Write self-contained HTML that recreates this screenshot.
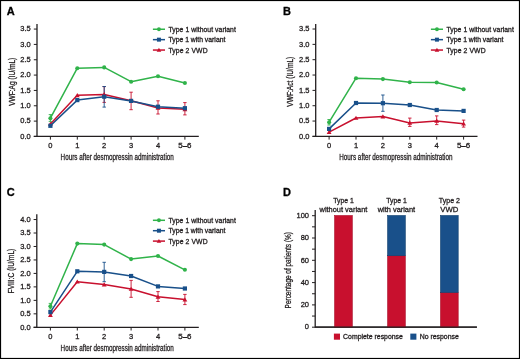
<!DOCTYPE html><html><head><meta charset="utf-8"><style>html,body{margin:0;padding:0;background:#fff}svg{display:block;will-change:transform}text{font-family:"Liberation Sans", sans-serif}</style></head><body>
<svg width="520" height="359" viewBox="0 0 520 359">
<rect x="0" y="0" width="520" height="359" fill="#fff"/>
<rect x="0.5" y="0.5" width="519" height="358" fill="none" stroke="#000" stroke-width="1.2"/>
<text x="6.80" y="15.00" font-size="11" text-anchor="start" font-weight="bold" fill="#000" stroke="#000" stroke-width="0.3" >A</text>
<text x="283.00" y="15.00" font-size="11" text-anchor="start" font-weight="bold" fill="#000" stroke="#000" stroke-width="0.3" >B</text>
<text x="6.80" y="196.30" font-size="11" text-anchor="start" font-weight="bold" fill="#000" stroke="#000" stroke-width="0.3" >C</text>
<text x="283.00" y="196.30" font-size="11" text-anchor="start" font-weight="bold" fill="#000" stroke="#000" stroke-width="0.3" >D</text>
<line x1="37.00" y1="24.00" x2="37.00" y2="137.05" stroke="#231f20" stroke-width="1.3"/>
<line x1="33.80" y1="136.45" x2="198.80" y2="136.45" stroke="#231f20" stroke-width="1.3"/>
<line x1="33.80" y1="136.45" x2="37.00" y2="136.45" stroke="#231f20" stroke-width="1.0"/>
<text x="30.80" y="138.70" font-size="7.5" text-anchor="end" font-weight="normal" fill="#231f20" stroke="#231f20" stroke-width="0.3" >0.0</text>
<line x1="33.80" y1="121.11" x2="37.00" y2="121.11" stroke="#231f20" stroke-width="1.0"/>
<text x="30.80" y="123.36" font-size="7.5" text-anchor="end" font-weight="normal" fill="#231f20" stroke="#231f20" stroke-width="0.3" >0.5</text>
<line x1="33.80" y1="105.77" x2="37.00" y2="105.77" stroke="#231f20" stroke-width="1.0"/>
<text x="30.80" y="108.02" font-size="7.5" text-anchor="end" font-weight="normal" fill="#231f20" stroke="#231f20" stroke-width="0.3" >1.0</text>
<line x1="33.80" y1="90.43" x2="37.00" y2="90.43" stroke="#231f20" stroke-width="1.0"/>
<text x="30.80" y="92.68" font-size="7.5" text-anchor="end" font-weight="normal" fill="#231f20" stroke="#231f20" stroke-width="0.3" >1.5</text>
<line x1="33.80" y1="75.09" x2="37.00" y2="75.09" stroke="#231f20" stroke-width="1.0"/>
<text x="30.80" y="77.34" font-size="7.5" text-anchor="end" font-weight="normal" fill="#231f20" stroke="#231f20" stroke-width="0.3" >2.0</text>
<line x1="33.80" y1="59.75" x2="37.00" y2="59.75" stroke="#231f20" stroke-width="1.0"/>
<text x="30.80" y="62.00" font-size="7.5" text-anchor="end" font-weight="normal" fill="#231f20" stroke="#231f20" stroke-width="0.3" >2.5</text>
<line x1="33.80" y1="44.41" x2="37.00" y2="44.41" stroke="#231f20" stroke-width="1.0"/>
<text x="30.80" y="46.66" font-size="7.5" text-anchor="end" font-weight="normal" fill="#231f20" stroke="#231f20" stroke-width="0.3" >3.0</text>
<line x1="33.80" y1="29.07" x2="37.00" y2="29.07" stroke="#231f20" stroke-width="1.0"/>
<text x="30.80" y="31.32" font-size="7.5" text-anchor="end" font-weight="normal" fill="#231f20" stroke="#231f20" stroke-width="0.3" >3.5</text>
<line x1="50.40" y1="136.45" x2="50.40" y2="139.65" stroke="#231f20" stroke-width="1.0"/>
<text x="50.40" y="147.75" font-size="7.5" text-anchor="middle" font-weight="normal" fill="#231f20" stroke="#231f20" stroke-width="0.3" >0</text>
<line x1="77.30" y1="136.45" x2="77.30" y2="139.65" stroke="#231f20" stroke-width="1.0"/>
<text x="77.30" y="147.75" font-size="7.5" text-anchor="middle" font-weight="normal" fill="#231f20" stroke="#231f20" stroke-width="0.3" >1</text>
<line x1="104.20" y1="136.45" x2="104.20" y2="139.65" stroke="#231f20" stroke-width="1.0"/>
<text x="104.20" y="147.75" font-size="7.5" text-anchor="middle" font-weight="normal" fill="#231f20" stroke="#231f20" stroke-width="0.3" >2</text>
<line x1="131.10" y1="136.45" x2="131.10" y2="139.65" stroke="#231f20" stroke-width="1.0"/>
<text x="131.10" y="147.75" font-size="7.5" text-anchor="middle" font-weight="normal" fill="#231f20" stroke="#231f20" stroke-width="0.3" >3</text>
<line x1="158.00" y1="136.45" x2="158.00" y2="139.65" stroke="#231f20" stroke-width="1.0"/>
<text x="158.00" y="147.75" font-size="7.5" text-anchor="middle" font-weight="normal" fill="#231f20" stroke="#231f20" stroke-width="0.3" >4</text>
<line x1="184.90" y1="136.45" x2="184.90" y2="139.65" stroke="#231f20" stroke-width="1.0"/>
<text x="184.90" y="147.75" font-size="7.5" text-anchor="middle" font-weight="normal" fill="#231f20" stroke="#231f20" stroke-width="0.3" textLength="13.3" lengthAdjust="spacingAndGlyphs">5–6</text>
<text x="117.20" y="160.45" font-size="9.0" text-anchor="middle" font-weight="normal" fill="#231f20" stroke="#231f20" stroke-width="0.3" textLength="113.2" lengthAdjust="spacingAndGlyphs">Hours after desmopressin administration</text>
<text transform="translate(14.70,81.75) rotate(-90)" x="0" y="0" font-size="8.8" text-anchor="middle" font-weight="normal" fill="#231f20" stroke="#231f20" stroke-width="0.3" textLength="48.1" lengthAdjust="spacingAndGlyphs">VWF:Ag (IU/mL)</text>
<polyline points="50.40,118.20 77.30,68.20 104.20,67.40 131.10,81.70 158.00,76.30 184.90,83.00" fill="none" stroke="#30b34a" stroke-width="1.5" stroke-linejoin="round"/>
<polyline points="50.40,124.00 77.30,95.30 104.20,94.40 131.10,100.80 158.00,108.00 184.90,109.30" fill="none" stroke="#c8102e" stroke-width="1.5" stroke-linejoin="round"/>
<polyline points="50.40,125.80 77.30,100.10 104.20,96.70 131.10,100.90 158.00,106.70 184.90,108.20" fill="none" stroke="#19508a" stroke-width="1.5" stroke-linejoin="round"/>
<line x1="50.40" y1="114.60" x2="50.40" y2="121.40" stroke="#30b34a" stroke-width="0.9"/>
<line x1="48.70" y1="114.60" x2="52.10" y2="114.60" stroke="#30b34a" stroke-width="0.9"/>
<line x1="48.70" y1="121.40" x2="52.10" y2="121.40" stroke="#30b34a" stroke-width="0.9"/>
<line x1="104.20" y1="86.60" x2="104.20" y2="102.40" stroke="#c8102e" stroke-width="0.9"/>
<line x1="102.50" y1="86.60" x2="105.90" y2="86.60" stroke="#c8102e" stroke-width="0.9"/>
<line x1="102.50" y1="102.40" x2="105.90" y2="102.40" stroke="#c8102e" stroke-width="0.9"/>
<line x1="131.10" y1="92.20" x2="131.10" y2="109.70" stroke="#c8102e" stroke-width="0.9"/>
<line x1="129.40" y1="92.20" x2="132.80" y2="92.20" stroke="#c8102e" stroke-width="0.9"/>
<line x1="129.40" y1="109.70" x2="132.80" y2="109.70" stroke="#c8102e" stroke-width="0.9"/>
<line x1="158.00" y1="100.80" x2="158.00" y2="114.00" stroke="#c8102e" stroke-width="0.9"/>
<line x1="156.30" y1="100.80" x2="159.70" y2="100.80" stroke="#c8102e" stroke-width="0.9"/>
<line x1="156.30" y1="114.00" x2="159.70" y2="114.00" stroke="#c8102e" stroke-width="0.9"/>
<line x1="184.90" y1="102.60" x2="184.90" y2="114.90" stroke="#c8102e" stroke-width="0.9"/>
<line x1="183.20" y1="102.60" x2="186.60" y2="102.60" stroke="#c8102e" stroke-width="0.9"/>
<line x1="183.20" y1="114.90" x2="186.60" y2="114.90" stroke="#c8102e" stroke-width="0.9"/>
<line x1="104.20" y1="86.50" x2="104.20" y2="107.10" stroke="#19508a" stroke-width="0.9"/>
<line x1="102.50" y1="86.50" x2="105.90" y2="86.50" stroke="#19508a" stroke-width="0.9"/>
<line x1="102.50" y1="107.10" x2="105.90" y2="107.10" stroke="#19508a" stroke-width="0.9"/>
<circle cx="50.40" cy="118.20" r="2.05" fill="#30b34a"/>
<circle cx="77.30" cy="68.20" r="2.05" fill="#30b34a"/>
<circle cx="104.20" cy="67.40" r="2.05" fill="#30b34a"/>
<circle cx="131.10" cy="81.70" r="2.05" fill="#30b34a"/>
<circle cx="158.00" cy="76.30" r="2.05" fill="#30b34a"/>
<circle cx="184.90" cy="83.00" r="2.05" fill="#30b34a"/>
<polygon points="50.40,121.70 52.81,125.84 47.98,125.84" fill="#c8102e"/>
<polygon points="77.30,93.00 79.72,97.14 74.88,97.14" fill="#c8102e"/>
<polygon points="104.20,92.10 106.61,96.24 101.78,96.24" fill="#c8102e"/>
<polygon points="131.10,98.50 133.51,102.64 128.69,102.64" fill="#c8102e"/>
<polygon points="158.00,105.70 160.41,109.84 155.59,109.84" fill="#c8102e"/>
<polygon points="184.90,107.00 187.31,111.14 182.49,111.14" fill="#c8102e"/>
<rect x="48.30" y="123.70" width="4.20" height="4.20" fill="#19508a"/>
<rect x="75.20" y="98.00" width="4.20" height="4.20" fill="#19508a"/>
<rect x="102.10" y="94.60" width="4.20" height="4.20" fill="#19508a"/>
<rect x="129.00" y="98.80" width="4.20" height="4.20" fill="#19508a"/>
<rect x="155.90" y="104.60" width="4.20" height="4.20" fill="#19508a"/>
<rect x="182.80" y="106.10" width="4.20" height="4.20" fill="#19508a"/>
<line x1="152.90" y1="29.25" x2="165.00" y2="29.25" stroke="#30b34a" stroke-width="1.5"/>
<circle cx="158.95" cy="29.25" r="1.95" fill="#30b34a"/>
<text x="168.45" y="31.85" font-size="6.8" text-anchor="start" font-weight="normal" fill="#231f20" stroke="#231f20" stroke-width="0.3" textLength="67.4" lengthAdjust="spacing">Type 1 without variant</text>
<line x1="152.90" y1="39.65" x2="165.00" y2="39.65" stroke="#19508a" stroke-width="1.5"/>
<rect x="156.95" y="37.66" width="3.99" height="3.99" fill="#19508a"/>
<text x="168.45" y="42.25" font-size="6.8" text-anchor="start" font-weight="normal" fill="#231f20" stroke="#231f20" stroke-width="0.3" textLength="56.9" lengthAdjust="spacing">Type 1 with variant</text>
<line x1="152.90" y1="50.05" x2="165.00" y2="50.05" stroke="#c8102e" stroke-width="1.5"/>
<polygon points="158.95,47.86 161.24,51.80 156.66,51.80" fill="#c8102e"/>
<text x="168.45" y="52.65" font-size="6.8" text-anchor="start" font-weight="normal" fill="#231f20" stroke="#231f20" stroke-width="0.3" textLength="39.1" lengthAdjust="spacing">Type 2 VWD</text>
<line x1="315.70" y1="24.10" x2="315.70" y2="137.00" stroke="#231f20" stroke-width="1.3"/>
<line x1="312.50" y1="136.40" x2="477.50" y2="136.40" stroke="#231f20" stroke-width="1.3"/>
<line x1="312.50" y1="136.40" x2="315.70" y2="136.40" stroke="#231f20" stroke-width="1.0"/>
<text x="309.50" y="138.65" font-size="7.5" text-anchor="end" font-weight="normal" fill="#231f20" stroke="#231f20" stroke-width="0.3" >0.0</text>
<line x1="312.50" y1="121.06" x2="315.70" y2="121.06" stroke="#231f20" stroke-width="1.0"/>
<text x="309.50" y="123.31" font-size="7.5" text-anchor="end" font-weight="normal" fill="#231f20" stroke="#231f20" stroke-width="0.3" >0.5</text>
<line x1="312.50" y1="105.72" x2="315.70" y2="105.72" stroke="#231f20" stroke-width="1.0"/>
<text x="309.50" y="107.97" font-size="7.5" text-anchor="end" font-weight="normal" fill="#231f20" stroke="#231f20" stroke-width="0.3" >1.0</text>
<line x1="312.50" y1="90.38" x2="315.70" y2="90.38" stroke="#231f20" stroke-width="1.0"/>
<text x="309.50" y="92.63" font-size="7.5" text-anchor="end" font-weight="normal" fill="#231f20" stroke="#231f20" stroke-width="0.3" >1.5</text>
<line x1="312.50" y1="75.04" x2="315.70" y2="75.04" stroke="#231f20" stroke-width="1.0"/>
<text x="309.50" y="77.29" font-size="7.5" text-anchor="end" font-weight="normal" fill="#231f20" stroke="#231f20" stroke-width="0.3" >2.0</text>
<line x1="312.50" y1="59.70" x2="315.70" y2="59.70" stroke="#231f20" stroke-width="1.0"/>
<text x="309.50" y="61.95" font-size="7.5" text-anchor="end" font-weight="normal" fill="#231f20" stroke="#231f20" stroke-width="0.3" >2.5</text>
<line x1="312.50" y1="44.36" x2="315.70" y2="44.36" stroke="#231f20" stroke-width="1.0"/>
<text x="309.50" y="46.61" font-size="7.5" text-anchor="end" font-weight="normal" fill="#231f20" stroke="#231f20" stroke-width="0.3" >3.0</text>
<line x1="312.50" y1="29.02" x2="315.70" y2="29.02" stroke="#231f20" stroke-width="1.0"/>
<text x="309.50" y="31.27" font-size="7.5" text-anchor="end" font-weight="normal" fill="#231f20" stroke="#231f20" stroke-width="0.3" >3.5</text>
<line x1="329.10" y1="136.40" x2="329.10" y2="139.60" stroke="#231f20" stroke-width="1.0"/>
<text x="329.10" y="147.70" font-size="7.5" text-anchor="middle" font-weight="normal" fill="#231f20" stroke="#231f20" stroke-width="0.3" >0</text>
<line x1="356.00" y1="136.40" x2="356.00" y2="139.60" stroke="#231f20" stroke-width="1.0"/>
<text x="356.00" y="147.70" font-size="7.5" text-anchor="middle" font-weight="normal" fill="#231f20" stroke="#231f20" stroke-width="0.3" >1</text>
<line x1="382.90" y1="136.40" x2="382.90" y2="139.60" stroke="#231f20" stroke-width="1.0"/>
<text x="382.90" y="147.70" font-size="7.5" text-anchor="middle" font-weight="normal" fill="#231f20" stroke="#231f20" stroke-width="0.3" >2</text>
<line x1="409.80" y1="136.40" x2="409.80" y2="139.60" stroke="#231f20" stroke-width="1.0"/>
<text x="409.80" y="147.70" font-size="7.5" text-anchor="middle" font-weight="normal" fill="#231f20" stroke="#231f20" stroke-width="0.3" >3</text>
<line x1="436.70" y1="136.40" x2="436.70" y2="139.60" stroke="#231f20" stroke-width="1.0"/>
<text x="436.70" y="147.70" font-size="7.5" text-anchor="middle" font-weight="normal" fill="#231f20" stroke="#231f20" stroke-width="0.3" >4</text>
<line x1="463.60" y1="136.40" x2="463.60" y2="139.60" stroke="#231f20" stroke-width="1.0"/>
<text x="463.60" y="147.70" font-size="7.5" text-anchor="middle" font-weight="normal" fill="#231f20" stroke="#231f20" stroke-width="0.3" textLength="13.3" lengthAdjust="spacingAndGlyphs">5–6</text>
<text x="395.90" y="160.40" font-size="9.0" text-anchor="middle" font-weight="normal" fill="#231f20" stroke="#231f20" stroke-width="0.3" textLength="113.2" lengthAdjust="spacingAndGlyphs">Hours after desmopressin administration</text>
<text transform="translate(292.70,81.70) rotate(-90)" x="0" y="0" font-size="8.8" text-anchor="middle" font-weight="normal" fill="#231f20" stroke="#231f20" stroke-width="0.3" textLength="50.0" lengthAdjust="spacingAndGlyphs">VWF:Act (IU/mL)</text>
<polyline points="329.10,122.20 356.00,78.20 382.90,79.10 409.80,82.20 436.70,82.50 463.60,89.20" fill="none" stroke="#30b34a" stroke-width="1.5" stroke-linejoin="round"/>
<polyline points="329.10,132.10 356.00,118.00 382.90,116.60 409.80,122.90 436.70,120.90 463.60,123.70" fill="none" stroke="#c8102e" stroke-width="1.5" stroke-linejoin="round"/>
<polyline points="329.10,128.90 356.00,103.00 382.90,103.20 409.80,105.00 436.70,110.00 463.60,110.90" fill="none" stroke="#19508a" stroke-width="1.5" stroke-linejoin="round"/>
<line x1="329.10" y1="119.50" x2="329.10" y2="125.00" stroke="#30b34a" stroke-width="0.9"/>
<line x1="327.40" y1="119.50" x2="330.80" y2="119.50" stroke="#30b34a" stroke-width="0.9"/>
<line x1="327.40" y1="125.00" x2="330.80" y2="125.00" stroke="#30b34a" stroke-width="0.9"/>
<line x1="409.80" y1="118.10" x2="409.80" y2="126.40" stroke="#c8102e" stroke-width="0.9"/>
<line x1="408.10" y1="118.10" x2="411.50" y2="118.10" stroke="#c8102e" stroke-width="0.9"/>
<line x1="408.10" y1="126.40" x2="411.50" y2="126.40" stroke="#c8102e" stroke-width="0.9"/>
<line x1="436.70" y1="115.90" x2="436.70" y2="124.60" stroke="#c8102e" stroke-width="0.9"/>
<line x1="435.00" y1="115.90" x2="438.40" y2="115.90" stroke="#c8102e" stroke-width="0.9"/>
<line x1="435.00" y1="124.60" x2="438.40" y2="124.60" stroke="#c8102e" stroke-width="0.9"/>
<line x1="463.60" y1="120.10" x2="463.60" y2="127.10" stroke="#c8102e" stroke-width="0.9"/>
<line x1="461.90" y1="120.10" x2="465.30" y2="120.10" stroke="#c8102e" stroke-width="0.9"/>
<line x1="461.90" y1="127.10" x2="465.30" y2="127.10" stroke="#c8102e" stroke-width="0.9"/>
<line x1="382.90" y1="95.00" x2="382.90" y2="111.30" stroke="#19508a" stroke-width="0.9"/>
<line x1="381.20" y1="95.00" x2="384.60" y2="95.00" stroke="#19508a" stroke-width="0.9"/>
<line x1="381.20" y1="111.30" x2="384.60" y2="111.30" stroke="#19508a" stroke-width="0.9"/>
<circle cx="329.10" cy="122.20" r="2.05" fill="#30b34a"/>
<circle cx="356.00" cy="78.20" r="2.05" fill="#30b34a"/>
<circle cx="382.90" cy="79.10" r="2.05" fill="#30b34a"/>
<circle cx="409.80" cy="82.20" r="2.05" fill="#30b34a"/>
<circle cx="436.70" cy="82.50" r="2.05" fill="#30b34a"/>
<circle cx="463.60" cy="89.20" r="2.05" fill="#30b34a"/>
<polygon points="329.10,129.80 331.51,133.94 326.68,133.94" fill="#c8102e"/>
<polygon points="356.00,115.70 358.41,119.84 353.58,119.84" fill="#c8102e"/>
<polygon points="382.90,114.30 385.31,118.44 380.48,118.44" fill="#c8102e"/>
<polygon points="409.80,120.60 412.21,124.74 407.38,124.74" fill="#c8102e"/>
<polygon points="436.70,118.60 439.11,122.74 434.28,122.74" fill="#c8102e"/>
<polygon points="463.60,121.40 466.01,125.54 461.18,125.54" fill="#c8102e"/>
<rect x="327.00" y="126.80" width="4.20" height="4.20" fill="#19508a"/>
<rect x="353.90" y="100.90" width="4.20" height="4.20" fill="#19508a"/>
<rect x="380.80" y="101.10" width="4.20" height="4.20" fill="#19508a"/>
<rect x="407.70" y="102.90" width="4.20" height="4.20" fill="#19508a"/>
<rect x="434.60" y="107.90" width="4.20" height="4.20" fill="#19508a"/>
<rect x="461.50" y="108.80" width="4.20" height="4.20" fill="#19508a"/>
<line x1="430.90" y1="29.25" x2="443.00" y2="29.25" stroke="#30b34a" stroke-width="1.5"/>
<circle cx="436.95" cy="29.25" r="1.95" fill="#30b34a"/>
<text x="446.45" y="31.85" font-size="6.8" text-anchor="start" font-weight="normal" fill="#231f20" stroke="#231f20" stroke-width="0.3" textLength="67.4" lengthAdjust="spacing">Type 1 without variant</text>
<line x1="430.90" y1="39.65" x2="443.00" y2="39.65" stroke="#19508a" stroke-width="1.5"/>
<rect x="434.95" y="37.66" width="3.99" height="3.99" fill="#19508a"/>
<text x="446.45" y="42.25" font-size="6.8" text-anchor="start" font-weight="normal" fill="#231f20" stroke="#231f20" stroke-width="0.3" textLength="56.9" lengthAdjust="spacing">Type 1 with variant</text>
<line x1="430.90" y1="50.05" x2="443.00" y2="50.05" stroke="#c8102e" stroke-width="1.5"/>
<polygon points="436.95,47.86 439.24,51.80 434.66,51.80" fill="#c8102e"/>
<text x="446.45" y="52.65" font-size="6.8" text-anchor="start" font-weight="normal" fill="#231f20" stroke="#231f20" stroke-width="0.3" textLength="39.1" lengthAdjust="spacing">Type 2 VWD</text>
<line x1="36.80" y1="214.30" x2="36.80" y2="327.90" stroke="#231f20" stroke-width="1.3"/>
<line x1="33.60" y1="327.30" x2="198.80" y2="327.30" stroke="#231f20" stroke-width="1.3"/>
<line x1="33.60" y1="327.30" x2="36.80" y2="327.30" stroke="#231f20" stroke-width="1.0"/>
<text x="30.60" y="329.55" font-size="7.5" text-anchor="end" font-weight="normal" fill="#231f20" stroke="#231f20" stroke-width="0.3" >0.0</text>
<line x1="33.60" y1="313.83" x2="36.80" y2="313.83" stroke="#231f20" stroke-width="1.0"/>
<text x="30.60" y="316.08" font-size="7.5" text-anchor="end" font-weight="normal" fill="#231f20" stroke="#231f20" stroke-width="0.3" >0.5</text>
<line x1="33.60" y1="300.36" x2="36.80" y2="300.36" stroke="#231f20" stroke-width="1.0"/>
<text x="30.60" y="302.61" font-size="7.5" text-anchor="end" font-weight="normal" fill="#231f20" stroke="#231f20" stroke-width="0.3" >1.0</text>
<line x1="33.60" y1="286.89" x2="36.80" y2="286.89" stroke="#231f20" stroke-width="1.0"/>
<text x="30.60" y="289.14" font-size="7.5" text-anchor="end" font-weight="normal" fill="#231f20" stroke="#231f20" stroke-width="0.3" >1.5</text>
<line x1="33.60" y1="273.42" x2="36.80" y2="273.42" stroke="#231f20" stroke-width="1.0"/>
<text x="30.60" y="275.67" font-size="7.5" text-anchor="end" font-weight="normal" fill="#231f20" stroke="#231f20" stroke-width="0.3" >2.0</text>
<line x1="33.60" y1="259.95" x2="36.80" y2="259.95" stroke="#231f20" stroke-width="1.0"/>
<text x="30.60" y="262.20" font-size="7.5" text-anchor="end" font-weight="normal" fill="#231f20" stroke="#231f20" stroke-width="0.3" >2.5</text>
<line x1="33.60" y1="246.48" x2="36.80" y2="246.48" stroke="#231f20" stroke-width="1.0"/>
<text x="30.60" y="248.73" font-size="7.5" text-anchor="end" font-weight="normal" fill="#231f20" stroke="#231f20" stroke-width="0.3" >3.0</text>
<line x1="33.60" y1="233.01" x2="36.80" y2="233.01" stroke="#231f20" stroke-width="1.0"/>
<text x="30.60" y="235.26" font-size="7.5" text-anchor="end" font-weight="normal" fill="#231f20" stroke="#231f20" stroke-width="0.3" >3.5</text>
<line x1="33.60" y1="219.54" x2="36.80" y2="219.54" stroke="#231f20" stroke-width="1.0"/>
<text x="30.60" y="221.79" font-size="7.5" text-anchor="end" font-weight="normal" fill="#231f20" stroke="#231f20" stroke-width="0.3" >4.0</text>
<line x1="50.40" y1="327.30" x2="50.40" y2="330.50" stroke="#231f20" stroke-width="1.0"/>
<text x="50.40" y="338.60" font-size="7.5" text-anchor="middle" font-weight="normal" fill="#231f20" stroke="#231f20" stroke-width="0.3" >0</text>
<line x1="77.30" y1="327.30" x2="77.30" y2="330.50" stroke="#231f20" stroke-width="1.0"/>
<text x="77.30" y="338.60" font-size="7.5" text-anchor="middle" font-weight="normal" fill="#231f20" stroke="#231f20" stroke-width="0.3" >1</text>
<line x1="104.20" y1="327.30" x2="104.20" y2="330.50" stroke="#231f20" stroke-width="1.0"/>
<text x="104.20" y="338.60" font-size="7.5" text-anchor="middle" font-weight="normal" fill="#231f20" stroke="#231f20" stroke-width="0.3" >2</text>
<line x1="131.10" y1="327.30" x2="131.10" y2="330.50" stroke="#231f20" stroke-width="1.0"/>
<text x="131.10" y="338.60" font-size="7.5" text-anchor="middle" font-weight="normal" fill="#231f20" stroke="#231f20" stroke-width="0.3" >3</text>
<line x1="158.00" y1="327.30" x2="158.00" y2="330.50" stroke="#231f20" stroke-width="1.0"/>
<text x="158.00" y="338.60" font-size="7.5" text-anchor="middle" font-weight="normal" fill="#231f20" stroke="#231f20" stroke-width="0.3" >4</text>
<line x1="184.90" y1="327.30" x2="184.90" y2="330.50" stroke="#231f20" stroke-width="1.0"/>
<text x="184.90" y="338.60" font-size="7.5" text-anchor="middle" font-weight="normal" fill="#231f20" stroke="#231f20" stroke-width="0.3" textLength="13.3" lengthAdjust="spacingAndGlyphs">5–6</text>
<text x="117.20" y="351.30" font-size="9.0" text-anchor="middle" font-weight="normal" fill="#231f20" stroke="#231f20" stroke-width="0.3" textLength="113.2" lengthAdjust="spacingAndGlyphs">Hours after desmopressin administration</text>
<text transform="translate(14.00,271.05) rotate(-90)" x="0" y="0" font-size="8.8" text-anchor="middle" font-weight="normal" fill="#231f20" stroke="#231f20" stroke-width="0.3" textLength="44.7" lengthAdjust="spacingAndGlyphs">FVIII:C (IU/mL)</text>
<polyline points="50.40,306.30 77.30,243.60 104.20,244.60 131.10,259.10 158.00,256.00 184.90,269.80" fill="none" stroke="#30b34a" stroke-width="1.5" stroke-linejoin="round"/>
<polyline points="50.40,315.10 77.30,281.70 104.20,284.60 131.10,289.00 158.00,296.80 184.90,299.60" fill="none" stroke="#c8102e" stroke-width="1.5" stroke-linejoin="round"/>
<polyline points="50.40,312.10 77.30,271.30 104.20,271.90 131.10,276.00 158.00,286.40 184.90,288.50" fill="none" stroke="#19508a" stroke-width="1.5" stroke-linejoin="round"/>
<line x1="50.40" y1="303.40" x2="50.40" y2="309.00" stroke="#30b34a" stroke-width="0.9"/>
<line x1="48.70" y1="303.40" x2="52.10" y2="303.40" stroke="#30b34a" stroke-width="0.9"/>
<line x1="48.70" y1="309.00" x2="52.10" y2="309.00" stroke="#30b34a" stroke-width="0.9"/>
<line x1="131.10" y1="280.40" x2="131.10" y2="297.30" stroke="#c8102e" stroke-width="0.9"/>
<line x1="129.40" y1="280.40" x2="132.80" y2="280.40" stroke="#c8102e" stroke-width="0.9"/>
<line x1="129.40" y1="297.30" x2="132.80" y2="297.30" stroke="#c8102e" stroke-width="0.9"/>
<line x1="158.00" y1="291.60" x2="158.00" y2="301.50" stroke="#c8102e" stroke-width="0.9"/>
<line x1="156.30" y1="291.60" x2="159.70" y2="291.60" stroke="#c8102e" stroke-width="0.9"/>
<line x1="156.30" y1="301.50" x2="159.70" y2="301.50" stroke="#c8102e" stroke-width="0.9"/>
<line x1="184.90" y1="294.40" x2="184.90" y2="304.60" stroke="#c8102e" stroke-width="0.9"/>
<line x1="183.20" y1="294.40" x2="186.60" y2="294.40" stroke="#c8102e" stroke-width="0.9"/>
<line x1="183.20" y1="304.60" x2="186.60" y2="304.60" stroke="#c8102e" stroke-width="0.9"/>
<line x1="104.20" y1="262.30" x2="104.20" y2="281.70" stroke="#19508a" stroke-width="0.9"/>
<line x1="102.50" y1="262.30" x2="105.90" y2="262.30" stroke="#19508a" stroke-width="0.9"/>
<line x1="102.50" y1="281.70" x2="105.90" y2="281.70" stroke="#19508a" stroke-width="0.9"/>
<circle cx="50.40" cy="306.30" r="2.05" fill="#30b34a"/>
<circle cx="77.30" cy="243.60" r="2.05" fill="#30b34a"/>
<circle cx="104.20" cy="244.60" r="2.05" fill="#30b34a"/>
<circle cx="131.10" cy="259.10" r="2.05" fill="#30b34a"/>
<circle cx="158.00" cy="256.00" r="2.05" fill="#30b34a"/>
<circle cx="184.90" cy="269.80" r="2.05" fill="#30b34a"/>
<polygon points="50.40,312.80 52.81,316.94 47.98,316.94" fill="#c8102e"/>
<polygon points="77.30,279.40 79.72,283.54 74.88,283.54" fill="#c8102e"/>
<polygon points="104.20,282.30 106.61,286.44 101.78,286.44" fill="#c8102e"/>
<polygon points="131.10,286.70 133.51,290.84 128.69,290.84" fill="#c8102e"/>
<polygon points="158.00,294.50 160.41,298.64 155.59,298.64" fill="#c8102e"/>
<polygon points="184.90,297.30 187.31,301.44 182.49,301.44" fill="#c8102e"/>
<rect x="48.30" y="310.00" width="4.20" height="4.20" fill="#19508a"/>
<rect x="75.20" y="269.20" width="4.20" height="4.20" fill="#19508a"/>
<rect x="102.10" y="269.80" width="4.20" height="4.20" fill="#19508a"/>
<rect x="129.00" y="273.90" width="4.20" height="4.20" fill="#19508a"/>
<rect x="155.90" y="284.30" width="4.20" height="4.20" fill="#19508a"/>
<rect x="182.80" y="286.40" width="4.20" height="4.20" fill="#19508a"/>
<line x1="152.90" y1="220.30" x2="165.00" y2="220.30" stroke="#30b34a" stroke-width="1.5"/>
<circle cx="158.95" cy="220.30" r="1.95" fill="#30b34a"/>
<text x="168.45" y="222.90" font-size="6.8" text-anchor="start" font-weight="normal" fill="#231f20" stroke="#231f20" stroke-width="0.3" textLength="67.4" lengthAdjust="spacing">Type 1 without variant</text>
<line x1="152.90" y1="230.70" x2="165.00" y2="230.70" stroke="#19508a" stroke-width="1.5"/>
<rect x="156.95" y="228.71" width="3.99" height="3.99" fill="#19508a"/>
<text x="168.45" y="233.30" font-size="6.8" text-anchor="start" font-weight="normal" fill="#231f20" stroke="#231f20" stroke-width="0.3" textLength="56.9" lengthAdjust="spacing">Type 1 with variant</text>
<line x1="152.90" y1="241.10" x2="165.00" y2="241.10" stroke="#c8102e" stroke-width="1.5"/>
<polygon points="158.95,238.92 161.24,242.85 156.66,242.85" fill="#c8102e"/>
<text x="168.45" y="243.70" font-size="6.8" text-anchor="start" font-weight="normal" fill="#231f20" stroke="#231f20" stroke-width="0.3" textLength="39.1" lengthAdjust="spacing">Type 2 VWD</text>
<line x1="315.20" y1="210.00" x2="315.20" y2="327.80" stroke="#231f20" stroke-width="1.3"/>
<line x1="315.20" y1="327.20" x2="476.90" y2="327.20" stroke="#231f20" stroke-width="1.3"/>
<line x1="312.00" y1="327.20" x2="315.20" y2="327.20" stroke="#231f20" stroke-width="1.0"/>
<text x="309.00" y="329.45" font-size="7.5" text-anchor="end" font-weight="normal" fill="#231f20" stroke="#231f20" stroke-width="0.3" >0</text>
<line x1="312.00" y1="316.05" x2="315.20" y2="316.05" stroke="#231f20" stroke-width="1.0"/>
<line x1="312.00" y1="304.90" x2="315.20" y2="304.90" stroke="#231f20" stroke-width="1.0"/>
<text x="309.00" y="307.15" font-size="7.5" text-anchor="end" font-weight="normal" fill="#231f20" stroke="#231f20" stroke-width="0.3" >20</text>
<line x1="312.00" y1="293.75" x2="315.20" y2="293.75" stroke="#231f20" stroke-width="1.0"/>
<line x1="312.00" y1="282.60" x2="315.20" y2="282.60" stroke="#231f20" stroke-width="1.0"/>
<text x="309.00" y="284.85" font-size="7.5" text-anchor="end" font-weight="normal" fill="#231f20" stroke="#231f20" stroke-width="0.3" >40</text>
<line x1="312.00" y1="271.45" x2="315.20" y2="271.45" stroke="#231f20" stroke-width="1.0"/>
<line x1="312.00" y1="260.30" x2="315.20" y2="260.30" stroke="#231f20" stroke-width="1.0"/>
<text x="309.00" y="262.55" font-size="7.5" text-anchor="end" font-weight="normal" fill="#231f20" stroke="#231f20" stroke-width="0.3" >60</text>
<line x1="312.00" y1="249.15" x2="315.20" y2="249.15" stroke="#231f20" stroke-width="1.0"/>
<line x1="312.00" y1="238.00" x2="315.20" y2="238.00" stroke="#231f20" stroke-width="1.0"/>
<text x="309.00" y="240.25" font-size="7.5" text-anchor="end" font-weight="normal" fill="#231f20" stroke="#231f20" stroke-width="0.3" >80</text>
<line x1="312.00" y1="226.85" x2="315.20" y2="226.85" stroke="#231f20" stroke-width="1.0"/>
<line x1="312.00" y1="215.70" x2="315.20" y2="215.70" stroke="#231f20" stroke-width="1.0"/>
<text x="309.00" y="217.95" font-size="7.5" text-anchor="end" font-weight="normal" fill="#231f20" stroke="#231f20" stroke-width="0.3" >100</text>
<text transform="translate(290.80,270.25) rotate(-90)" x="0" y="0" font-size="9.2" text-anchor="middle" font-weight="normal" fill="#231f20" stroke="#231f20" stroke-width="0.3" textLength="76.3" lengthAdjust="spacingAndGlyphs">Percentage of patients (%)</text>
<rect x="334.60" y="215.50" width="17.7" height="111.70" fill="#c8102e" stroke="#a80c27" stroke-width="0.6"/>
<rect x="387.60" y="255.71" width="17.7" height="71.49" fill="#c8102e" stroke="#a80c27" stroke-width="0.6"/>
<rect x="387.60" y="215.50" width="17.7" height="40.21" fill="#19508a" stroke="#0e3d6c" stroke-width="0.6"/>
<rect x="440.50" y="292.46" width="17.7" height="34.74" fill="#c8102e" stroke="#a80c27" stroke-width="0.6"/>
<rect x="440.50" y="215.50" width="17.7" height="76.96" fill="#19508a" stroke="#0e3d6c" stroke-width="0.6"/>
<line x1="315.20" y1="327.20" x2="476.90" y2="327.20" stroke="#231f20" stroke-width="1.3"/>
<text x="343.45" y="202.80" font-size="7.4" text-anchor="middle" font-weight="normal" fill="#231f20" stroke="#231f20" stroke-width="0.3" textLength="20.6" lengthAdjust="spacingAndGlyphs">Type 1</text>
<text x="343.45" y="212.20" font-size="7.4" text-anchor="middle" font-weight="normal" fill="#231f20" stroke="#231f20" stroke-width="0.3" textLength="47.8" lengthAdjust="spacingAndGlyphs">without variant</text>
<text x="396.45" y="202.80" font-size="7.4" text-anchor="middle" font-weight="normal" fill="#231f20" stroke="#231f20" stroke-width="0.3" textLength="20.6" lengthAdjust="spacingAndGlyphs">Type 1</text>
<text x="396.45" y="212.20" font-size="7.4" text-anchor="middle" font-weight="normal" fill="#231f20" stroke="#231f20" stroke-width="0.3" textLength="37.4" lengthAdjust="spacingAndGlyphs">with variant</text>
<text x="449.35" y="202.80" font-size="7.4" text-anchor="middle" font-weight="normal" fill="#231f20" stroke="#231f20" stroke-width="0.3" textLength="21.2" lengthAdjust="spacingAndGlyphs">Type 2</text>
<text x="449.35" y="212.20" font-size="7.4" text-anchor="middle" font-weight="normal" fill="#231f20" stroke="#231f20" stroke-width="0.3" textLength="18.0" lengthAdjust="spacingAndGlyphs">VWD</text>
<rect x="333.9" y="333.6" width="6.1" height="6.1" fill="#c8102e"/>
<text x="343.10" y="339.10" font-size="6.9" text-anchor="start" font-weight="normal" fill="#231f20" stroke="#231f20" stroke-width="0.3" >Complete response</text>
<rect x="410.3" y="333.6" width="6.1" height="6.1" fill="#19508a"/>
<text x="419.70" y="339.10" font-size="6.9" text-anchor="start" font-weight="normal" fill="#231f20" stroke="#231f20" stroke-width="0.3" >No response</text>
</svg></body></html>
